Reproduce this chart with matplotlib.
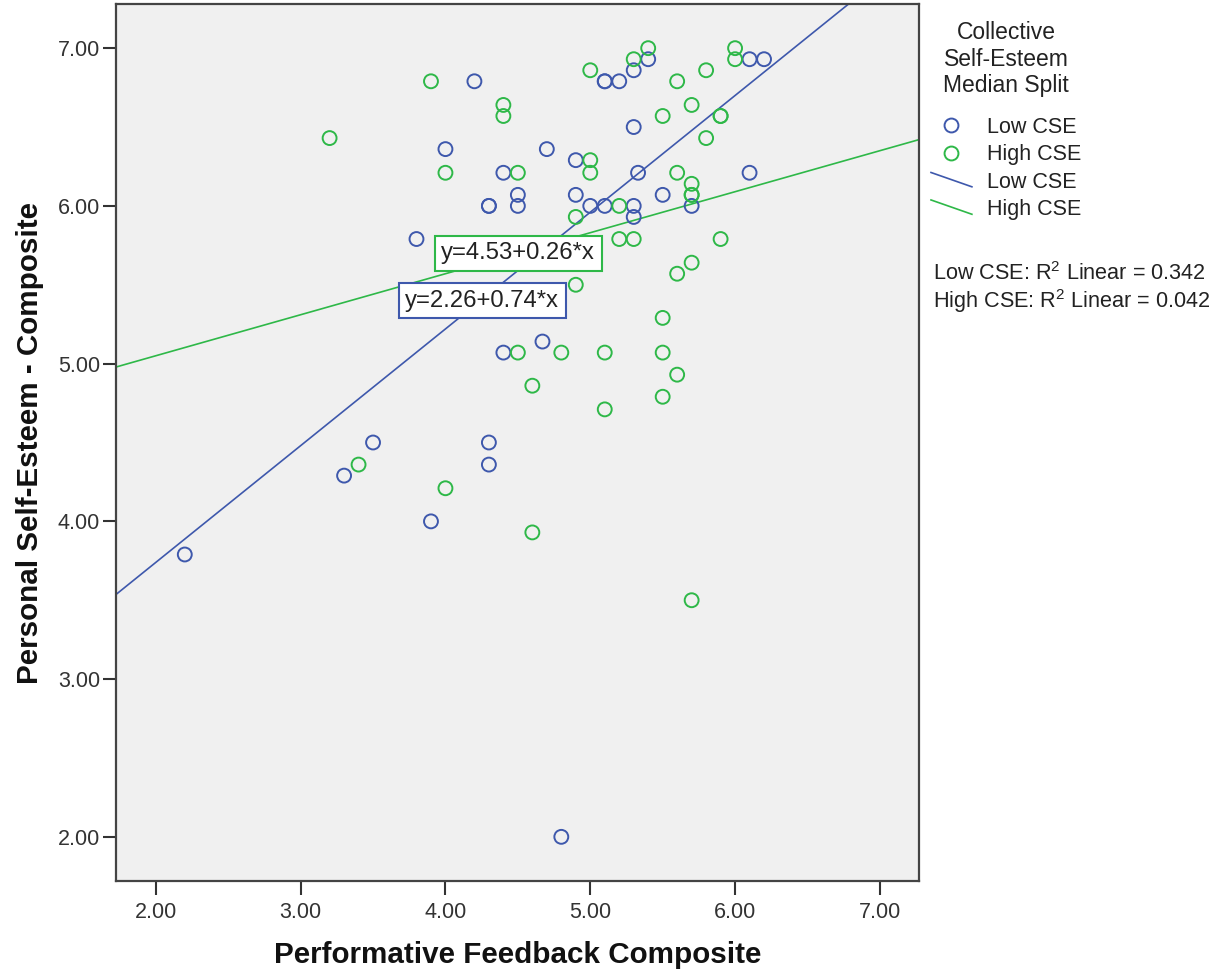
import matplotlib
matplotlib.use("Agg")
import matplotlib.pyplot as plt
from matplotlib.lines import Line2D
from matplotlib.legend_handler import HandlerBase

plt.rcParams['font.family'] = ['Liberation Sans', 'DejaVu Sans']
plt.rcParams['mathtext.fontset'] = 'custom'
plt.rcParams['mathtext.rm'] = 'Liberation Sans'
plt.rcParams['mathtext.it'] = 'Liberation Sans:italic'

# ---- data ----
low_x = [2.2, 3.3, 3.5, 3.8, 3.9, 4.0, 4.2, 4.3, 4.3, 4.3, 4.3, 4.4, 4.4, 4.5, 4.5,
         4.67, 4.7, 4.8, 4.9, 4.9, 5.0, 5.1, 5.1, 5.1, 5.2, 5.3, 5.3, 5.3, 5.3, 5.33,
         5.4, 5.5, 5.7, 6.1, 6.1, 6.2]
low_y = [3.79, 4.29, 4.50, 5.79, 4.00, 6.36, 6.79, 6.00, 6.00, 4.50, 4.36, 6.21, 5.07, 6.07, 6.00,
         5.14, 6.36, 2.00, 6.29, 6.07, 6.00, 6.00, 6.79, 6.79, 6.79, 6.86, 6.50, 6.00, 5.93, 6.21,
         6.93, 6.07, 6.00, 6.93, 6.21, 6.93]

high_x = [3.2, 3.4, 3.9, 4.0, 4.0, 4.4, 4.4, 4.5, 4.5, 4.6, 4.6, 4.8, 4.9, 4.9, 5.0,
          5.0, 5.0, 5.1, 5.1, 5.2, 5.2, 5.3, 5.3, 5.4, 5.5, 5.5, 5.5, 5.5, 5.6, 5.6,
          5.6, 5.6, 5.7, 5.7, 5.7, 5.7, 5.7, 5.7, 5.8, 5.8, 5.9, 5.9, 5.9, 6.0, 6.0]
high_y = [6.43, 4.36, 6.79, 6.21, 4.21, 6.64, 6.57, 6.21, 5.07, 4.86, 3.93, 5.07, 5.93, 5.50, 6.86,
          6.29, 6.21, 5.07, 4.71, 6.00, 5.79, 6.93, 5.79, 7.00, 6.57, 5.29, 5.07, 4.79, 6.79, 6.21,
          5.57, 4.93, 6.64, 6.14, 6.07, 6.07, 5.64, 3.50, 6.86, 6.43, 6.57, 6.57, 5.79, 7.00, 6.93]

group_names = ["Low CSE", "High CSE"]
fit_intercepts = [2.26, 4.53]
fit_slopes = [0.74, 0.26]
r_squared = [0.342, 0.042]

x_ticks = [2, 3, 4, 5, 6, 7]
y_ticks = [2, 3, 4, 5, 6, 7]

x_label = "Performative Feedback Composite"
y_label = "Personal Self-Esteem - Composite"
legend_title = "Collective\nSelf-Esteem\nMedian Split"

colors = ["#3e58ac", "#2eb848"]

# ---- figure ----
W, H = 1221, 976
fig = plt.figure(figsize=(W / 100, H / 100), dpi=100)
ax = fig.add_axes([116 / W, 1 - 881 / H, (919 - 116) / W, (881 - 4) / H])
ax.set_facecolor("#f0f0f0")
ax.set_xlim(1.725, 7.27)
ax.set_ylim(1.72, 7.28)

for xs, ys, c in [(low_x, low_y, colors[0]), (high_x, high_y, colors[1])]:
    ax.scatter(xs, ys, s=100, facecolors="none", edgecolors=c, linewidths=1.4, zorder=3)

for b, m, c in zip(fit_intercepts, fit_slopes, colors):
    ax.axline((0, b), slope=m, color=c, lw=1.2, zorder=2)

# equation labels
eq_pos = [(4.255, 5.40), (4.503, 5.70)]
for (px, py), b, m, c in zip(eq_pos, fit_intercepts, fit_slopes, colors):
    ax.text(px, py, f"y={b:.2f}+{m:.2f}*x", fontsize=17.2, color="#222222",
            ha="center", va="center", zorder=5,
            bbox=dict(boxstyle="square,pad=0.28", facecolor="white", edgecolor=c, linewidth=1.5))

ax.set_xticks(x_ticks)
ax.set_yticks(y_ticks)
ax.set_xticklabels([f"{v:.2f}" for v in x_ticks])
ax.set_yticklabels([f"{v:.2f}" for v in y_ticks])
ax.tick_params(axis="x", length=10, width=1.5, pad=5, labelsize=15.5, colors="#333333")
ax.tick_params(axis="y", length=9.5, width=1.5, pad=2, labelsize=15.5, colors="#333333")
for sp in ax.spines.values():
    sp.set_linewidth(1.6)
    sp.set_color("#444444")

fig.text(517.5 / W, 1 - 963 / H, x_label, fontsize=21.3, fontweight="bold",
         ha="center", va="baseline", color="#111111")
fig.text(30 / W, 1 - 442.5 / H, y_label, fontsize=21.3, fontweight="bold",
         ha="center", va="center", rotation=90, color="#111111")


class DiagHandler(HandlerBase):
    def create_artists(self, legend, orig_handle, xdescent, ydescent, width, height,
                       fontsize, trans):
        x0 = -xdescent
        x1 = -xdescent + width
        y0 = -ydescent + height * 1.0
        y1 = -ydescent + height * 0.05
        ln = Line2D([x0, x1], [y0, y1], color=orig_handle.get_color(),
                    lw=orig_handle.get_linewidth(), transform=trans)
        return [ln]


handles = []
labels = []
for name, c in zip(group_names, colors):
    handles.append(Line2D([], [], linestyle="none", marker="o", markersize=10,
                          markerfacecolor="none", markeredgecolor=c, markeredgewidth=1.4))
    labels.append(name)
line_handles = []
for name, c in zip(group_names, colors):
    h = Line2D([], [], color=c, lw=1.2)
    handles.append(h)
    line_handles.append(h)
    labels.append(name)

hmap = {h: DiagHandler() for h in line_handles}
leg = fig.legend(handles, labels, loc="upper left", bbox_to_anchor=(931 / W, 1 - 21 / H),
                 frameon=False, fontsize=15.5, title=legend_title, title_fontsize=16.5,
                 handlelength=1.9, handletextpad=0.7, labelspacing=0.3, borderpad=0,
                 borderaxespad=0, handler_map=hmap)
leg.get_title().set_multialignment("center")
leg.get_title().set_color("#222222")
for t in leg.get_texts():
    t.set_color("#222222")
leg._legend_box.sep = 14

for i, (name, r2) in enumerate(zip(group_names, r_squared)):
    fig.text(933 / W, 1 - (274 + 27 * i) / H, f"{name}: R$^2$ Linear = {r2:.3f}",
             fontsize=15.6, ha="left", va="center", color="#222222")

fig.savefig("out.png", dpi=100)
